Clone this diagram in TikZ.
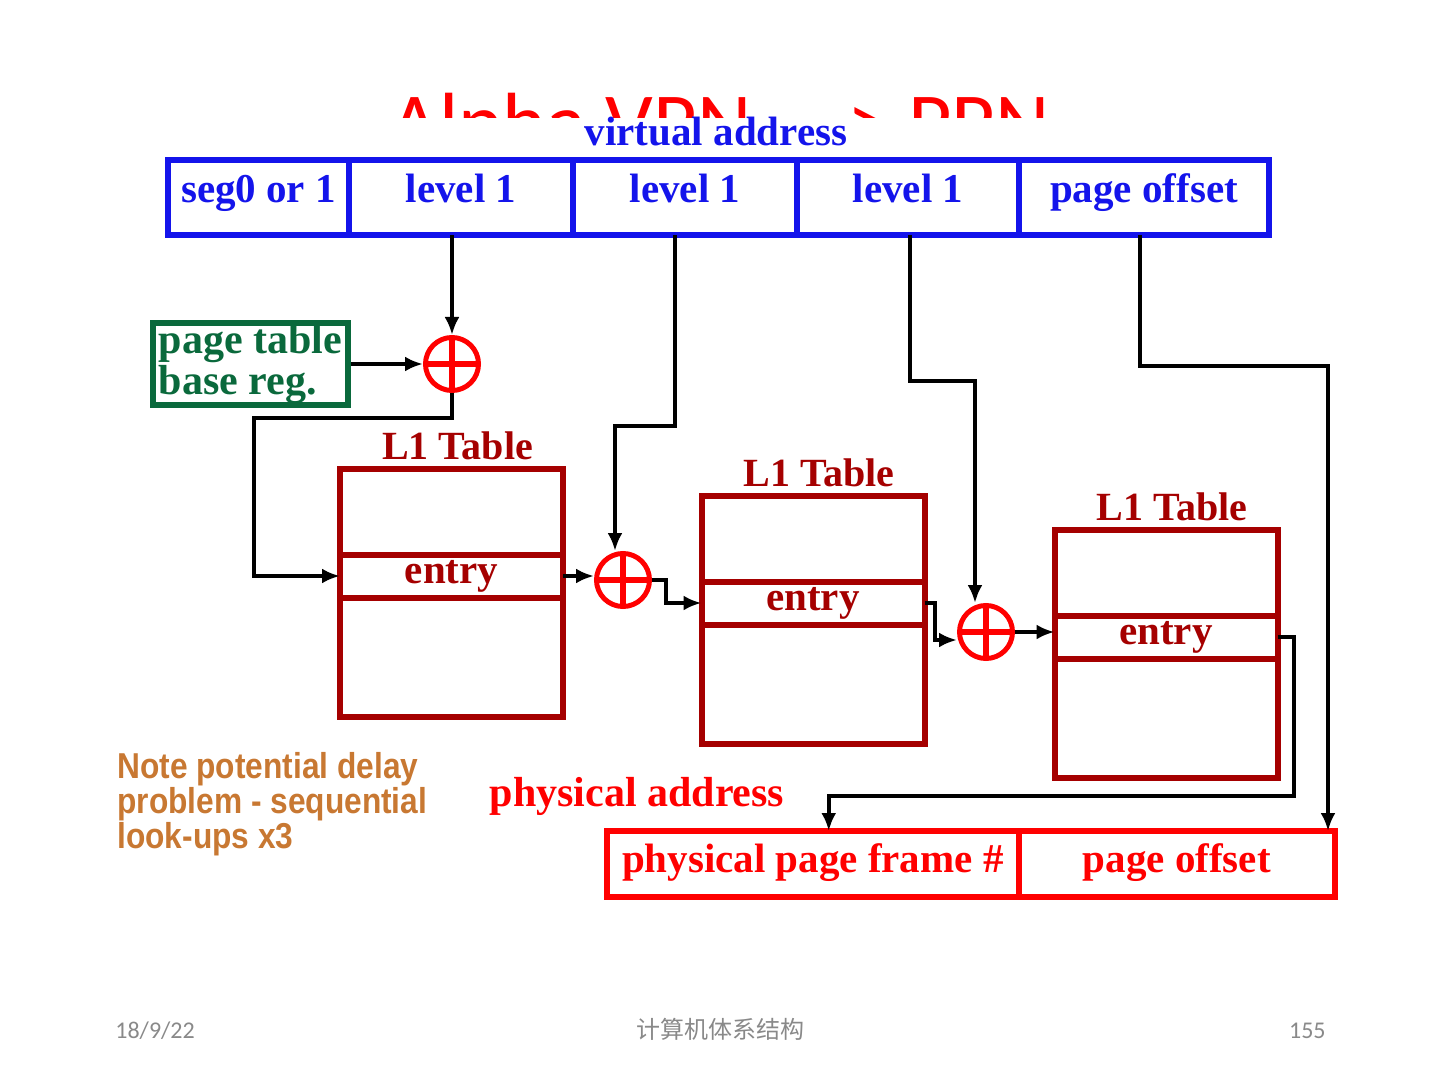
\documentclass[tikz,border=0pt]{standalone}
\usepackage{fontspec}
\setmainfont{Liberation Serif}
\newfontfamily\slidefont{Carlito}
\newfontfamily\notefont[FakeStretch=0.88]{Liberation Sans}
\newfontfamily\cjkfont{Noto Sans CJK SC}
\usetikzlibrary{arrows.meta,positioning}
\definecolor{vablue}{RGB}{20,20,235}
\definecolor{ptgreen}{RGB}{10,105,60}
\definecolor{tabred}{RGB}{165,0,0}
\definecolor{pared}{RGB}{255,0,0}
\definecolor{noteorange}{RGB}{200,120,50}
\definecolor{footgray}{RGB}{137,137,137}

\begin{document}
\begin{tikzpicture}[
    x=0.5pt,y=-0.5pt,
    field/.style={rectangle,draw=vablue,line width=3pt,outer sep=0pt,inner sep=0pt,minimum height=37.5pt,text height=14pt,text depth=8.5pt,text=vablue,font=\fontsize{20.5}{24}\selectfont\bfseries},
    pfield/.style={field,draw=pared,text=pared,minimum height=33pt,text depth=6pt},
    l1tab/.style={rectangle,draw=tabred,line width=3pt,outer sep=0pt,minimum width=111.5pt,minimum height=124pt},
    entrycell/.style={l1tab,minimum height=21.5pt,inner sep=0pt,text=tabred,font=\fontsize{20.5}{24}\selectfont\bfseries},
    tabtitle/.style={inner sep=0pt,text=tabred,font=\fontsize{20}{24}\selectfont\bfseries},
    adder/.style={circle,draw=pared,line width=2.5pt,minimum size=26.5pt,inner sep=0pt,
        path picture={\draw[pared,line width=3pt] (path picture bounding box.north) -- (path picture bounding box.south) (path picture bounding box.west) -- (path picture bounding box.east);}},
    conn/.style={line width=2pt,-{Latex[length=9pt,width=7.5pt]}},
    foot/.style={inner sep=0pt,text=footgray,font=\slidefont\fontsize{12}{14}\selectfont}
]
\useasboundingbox (0,0) rectangle (1440,1080);

\begin{scope}
\clip (0,0) rectangle (1440,118);
\node[anchor=base,text=pared,font=\slidefont\fontsize{42}{50}\selectfont] (title) at (720,152) {Alpha VPN -{}-{}-> PPN};
\end{scope}

\node[anchor=base,inner sep=0pt,text=vablue,font=\fontsize{20.5}{24}\selectfont\bfseries] (vaddr) at (716,146) {virtual address};
\node[field,minimum width=90.5pt,anchor=north west] (seg) at (168,160) {seg0 or 1};
\node[field,minimum width=112pt,right=0pt of seg] (lvA) {level 1};
\node[field,minimum width=112pt,right=0pt of lvA] (lvB) {level 1};
\node[field,minimum width=111pt,right=0pt of lvB] (lvC) {level 1};
\node[field,minimum width=125pt,right=0pt of lvC] (offV) {page offset};

\node[rectangle,draw=ptgreen,line width=3pt,text=ptgreen,minimum width=97.5pt,minimum height=41pt,inner sep=0pt,align=left,font=\fontsize{21}{16.5}\selectfont\bfseries] (ptbr) at (250.5,364) {page table\\base reg.};

\node[adder] (addA) at (452,364) {};
\node[adder] (addB) at (623,580) {};
\node[adder] (addC) at (986,632) {};

\node[l1tab] (tabA) at (451.5,592.5) {};
\node[entrycell,below=43pt of tabA.north] (entA) {entry};
\node[tabtitle,above=4pt of tabA.north,xshift=3pt] (ttlA) {L1 Table};
\node[l1tab] (tabB) at (813,619.5) {};
\node[entrycell,below=43pt of tabB.north] (entB) {entry};
\node[tabtitle,above=4pt of tabB.north,xshift=3pt] (ttlB) {L1 Table};
\node[l1tab] (tabC) at (1166,653.5) {};
\node[entrycell,below=43pt of tabC.north] (entC) {entry};
\node[tabtitle,above=4pt of tabC.north,xshift=3pt] (ttlC) {L1 Table};

\node[anchor=base,text=pared,font=\fontsize{21}{24}\selectfont\bfseries] (paddr) at (637,806) {physical address};
\node[pfield,minimum width=205.75pt,anchor=north west] (pfn) at (607,831) {physical page frame \#};
\node[pfield,minimum width=158.25pt,right=0pt of pfn] (offP) {page offset};

\node[anchor=north west,inner sep=0pt,align=left,text=noteorange,font=\notefont\bfseries\fontsize{18}{17.5}\selectfont] (note) at (117,752) {Note potential delay\\problem - sequential\\look-ups x3};

\draw[conn] (lvA.south -| addA.north) -- (addA.north);
\draw[conn] (ptbr.east) -- (ptbr.east -| addA.west);
\draw[conn] (addA.south) -- ++(0,25) -| ([xshift=-43pt]entA.west) -- (entA.west);
\draw[conn] ([xshift=-5pt]lvB.south) -- ++(0,191) -| ([xshift=-4pt]addB.north);
\draw[conn] (entA.east) -- (entA.east -| addB.west);
\draw[conn] (addB.east) -- ++(14,0) |- (entB.west);
\draw[conn] ([xshift=1pt]lvC.south) -- ++(0,146) -| ([xshift=-5.5pt]addC.north);
\draw[conn] (entB.east) -- ++(10,0) |- ([yshift=-4pt]addC.west);
\draw[conn] (addC.east) -- (addC.east -| entC.west);
\draw[conn] (entC.east) -- ++(16,0) -- ++(0,158.5) -| ([xshift=8pt]pfn.north);
\draw[conn] ([xshift=-2pt]offV.south) -- ++(0,131) -| ([xshift=-3.5pt]offP.north east);

\node[foot,anchor=base west] (date) at (115,1038) {18/9/22};
\node[foot,anchor=base,font=\cjkfont\fontsize{12}{14}\selectfont] (course) at (720,1038) {计算机体系结构};
\node[foot,anchor=base east] (pgno) at (1326,1038) {155};
\end{tikzpicture}
\end{document}
